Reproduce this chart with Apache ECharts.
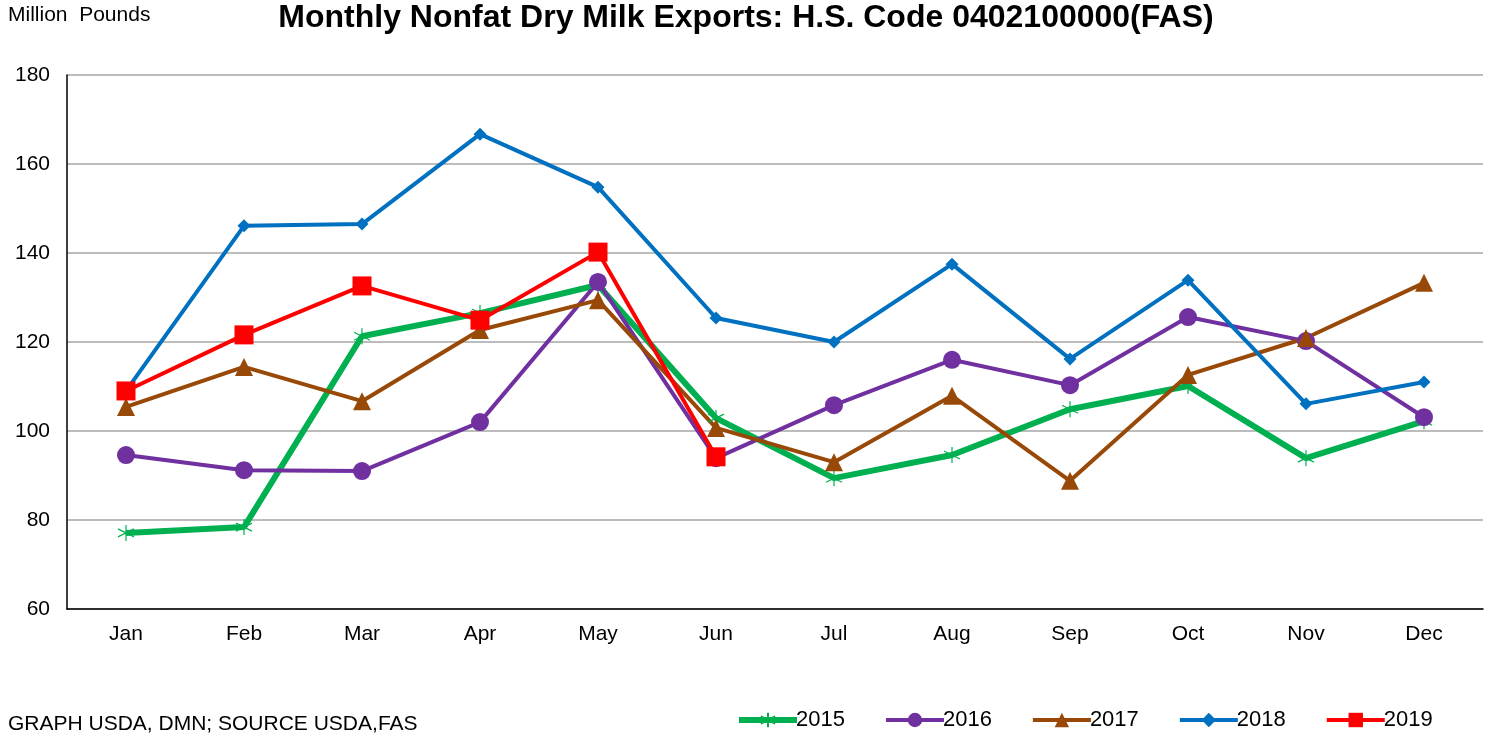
<!DOCTYPE html>
<html>
<head>
<meta charset="utf-8">
<script src="https://cdn.jsdelivr.net/npm/echarts@6/dist/echarts.min.js"></script>
<style>html,body{margin:0;padding:0;background:#fff}#c{width:1493px;height:738px}</style>
</head>
<body>
<div id="c"></div>
<script>
const months = ['Jan','Feb','Mar','Apr','May','Jun','Jul','Aug','Sep','Oct','Nov','Dec'];
const s2015 = [77.1, 78.4, 121.3, 126.5, 132.8, 102.9, 89.4, 94.6, 104.9, 110.1, 93.9, 102.2];
const s2016 = [94.6, 91.2, 91.0, 102.0, 133.5, 93.9, 105.8, 116.0, 110.3, 125.6, 120.2, 103.1];
const s2017 = [105.4, 114.4, 106.7, 122.7, 129.4, 100.7, 93.0, 107.9, 88.8, 112.6, 120.9, 133.3];
const s2018 = [109.0, 146.1, 146.5, 166.7, 154.8, 125.4, 120.0, 137.5, 116.2, 133.9, 106.1, 111.0];
const s2019 = [109.0, 121.6, 132.6, 124.9, 140.2, 94.2];
const yTicks = [60, 80, 100, 120, 140, 160, 180];

const chart = echarts.init(document.getElementById('c'), null, {renderer: 'canvas'});
const font = 'Liberation Sans, Arial, sans-serif';
const star = 'path://M0,-10L0,10M-8.66,-5L8.66,5M-8.66,5L8.66,-5';
function ser(name, data, color, width, symbol, size, extra) {
  return Object.assign({
    name, type: 'line', data, symbol, symbolSize: size,
    lineStyle: {color, width},
    itemStyle: {color},
    emphasis: {disabled: true},
    animation: false
  }, extra || {});
}
chart.setOption({
  animation: false,
  textStyle: {fontFamily: font},
  title: [
    {text: 'Monthly Nonfat Dry Milk Exports: H.S. Code 0402100000(FAS)', left: 746, textAlign: 'center', top: 2, padding: 0,
     textStyle: {fontSize: 32, fontWeight: 'bold', color: '#000', fontFamily: font}},
    {text: 'Million  Pounds', left: 8, top: 5, padding: 0, textStyle: {fontSize: 21, fontWeight: 'normal', color: '#000', fontFamily: font}},
    {text: 'GRAPH USDA, DMN; SOURCE USDA,FAS', left: 8, top: 714, padding: 0, textStyle: {fontSize: 21, fontWeight: 'normal', color: '#000', fontFamily: font}}
  ],
  grid: {left: 67, right: 10, top: 75, bottom: 129, containLabel: false},
  xAxis: {
    type: 'category', data: months, boundaryGap: true,
    axisLine: {lineStyle: {color: '#000', width: 1.5}},
    axisTick: {show: false},
    axisLabel: {color: '#000', fontSize: 21, margin: 15, fontFamily: font}
  },
  yAxis: {
    type: 'value', min: yTicks[0], max: yTicks[yTicks.length-1], interval: 20,
    axisLine: {show: true, lineStyle: {color: '#000', width: 1.5}},
    axisTick: {show: false},
    axisLabel: {color: '#000', fontSize: 21, margin: 17, fontFamily: font},
    splitLine: {lineStyle: {color: '#A6A6A6', width: 1.5}}
  },
  legend: {
    top: 709, left: 736, itemGap: 39, itemWidth: 58, itemHeight: 18, padding: 0,
    textStyle: {fontSize: 22, color: '#000', fontFamily: font, padding: [0,0,0,-6]},
    data: [
      {name: '2015', lineStyle: {width: 6}},
      {name: '2016', lineStyle: {width: 4}},
      {name: '2017', lineStyle: {width: 4}},
      {name: '2018', lineStyle: {width: 4}},
      {name: '2019', lineStyle: {width: 4}}
    ]
  },
  series: [
    ser('2015', s2015, '#00B050', 6, star, 16, {itemStyle: {color: '#00B050', borderColor: '#00B050', borderWidth: 1.2}}),
    ser('2016', s2016, '#7030A0', 4, 'circle', 18),
    ser('2017', s2017, '#984807', 4, 'triangle', 18),
    ser('2018', s2018, '#0070C0', 4, 'diamond', 13),
    ser('2019', s2019, '#FF0000', 4, 'rect', 19)
  ]
});
</script>
</body>
</html>
